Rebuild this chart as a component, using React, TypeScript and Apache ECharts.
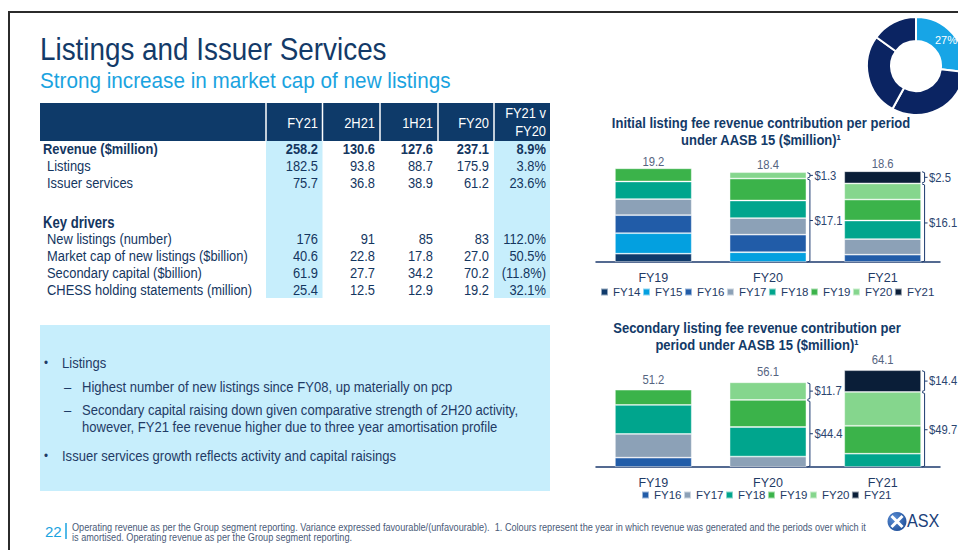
import React, { useEffect, useRef } from "react";
import * as echarts from "echarts";

const FF = "'Liberation Sans', Arial, sans-serif";
const NAVY = "#14365f";
const TEXT = "#1f3b66";

// ---- chart data ----
const periods = ["FY19", "FY20", "FY21"];
const initialYears = ["FY14", "FY15", "FY16", "FY17", "FY18", "FY19", "FY20", "FY21"];
const secondaryYears = ["FY16", "FY17", "FY18", "FY19", "FY20", "FY21"];

const initialFY14 = [1.7, null, null];
const initialFY15 = [4.2, 2.0, null];
const initialFY16 = [3.7, 3.6, 1.5];
const initialFY17 = [3.3, 3.4, 3.2];
const initialFY18 = [3.6, 3.6, 3.8];
const initialFY19 = [2.7, 4.5, 4.3];
const initialFY20 = [null, 1.3, 3.3];
const initialFY21 = [null, null, 2.5];

const secondaryFY16 = [6.2, null, null];
const secondaryFY17 = [15.7, 6.9, null];
const secondaryFY18 = [19.2, 19.6, 8.8];
const secondaryFY19 = [10.1, 17.9, 18.5];
const secondaryFY20 = [null, 11.7, 22.4];
const secondaryFY21 = [null, null, 14.4];

const bracketShown = [false, true, true];

const donutValues = [27, 31, 27, 15];
const donutLabel = "27%";

// ---- table data ----
const tableHeaders = ["FY21", "2H21", "1H21", "FY20"];
const tableHeaderLast = ["FY21 v", "FY20"];
const rowLabels = [
  "Revenue ($million)",
  "Listings",
  "Issuer services",
  "Key drivers",
  "New listings (number)",
  "Market cap of new listings ($billion)",
  "Secondary capital ($billion)",
  "CHESS holding statements (million)",
];
const rowRevenue = ["258.2", "130.6", "127.6", "237.1", "8.9%"];
const rowListings = ["182.5", "93.8", "88.7", "175.9", "3.8%"];
const rowIssuer = ["75.7", "36.8", "38.9", "61.2", "23.6%"];
const rowNewListings = ["176", "91", "85", "83", "112.0%"];
const rowMarketCap = ["40.6", "22.8", "17.8", "27.0", "50.5%"];
const rowSecondary = ["61.9", "27.7", "34.2", "70.2", "(11.8%)"];
const rowChess = ["25.4", "12.5", "12.9", "19.2", "32.1%"];

const bulletLines = [
  "Listings",
  "Highest number of new listings since FY08, up materially on pcp",
  "Secondary capital raising down given comparative strength of 2H20 activity,",
  "however, FY21 fee revenue higher due to three year amortisation profile",
  "Issuer services growth reflects activity and capital raisings",
];

const footerLine1 =
  "Operating revenue as per the Group segment reporting. Variance expressed favourable/(unfavourable).  1. Colours represent the year in which revenue was generated and the periods over which it";
const footerLine2 = "is amortised. Operating revenue as per the Group segment reporting.";

// ---- styles ----
const yearColors: Record<string, string> = {
  FY14: "#0f3a6b",
  FY15: "#03a0e0",
  FY16: "#215ca8",
  FY17: "#8ca1b7",
  FY18: "#00a58d",
  FY19: "#3bb34a",
  FY20: "#85d68d",
  FY21: "#0a1e38",
};

const initialSeriesData: Record<string, (number | null)[]> = {
  FY14: initialFY14, FY15: initialFY15, FY16: initialFY16, FY17: initialFY17,
  FY18: initialFY18, FY19: initialFY19, FY20: initialFY20, FY21: initialFY21,
};
const secondarySeriesData: Record<string, (number | null)[]> = {
  FY16: secondaryFY16, FY17: secondaryFY17, FY18: secondaryFY18,
  FY19: secondaryFY19, FY20: secondaryFY20, FY21: secondaryFY21,
};

function totalsOf(d: Record<string, (number | null)[]>) {
  return periods.map((_, i) =>
    Math.round(Object.values(d).reduce((s, a) => s + (a[i] || 0), 0) * 10) / 10
  );
}
function currentsOf(d: Record<string, (number | null)[]>) {
  return periods.map((p, i) => (d[p] ? d[p][i] || 0 : 0));
}

function txt(x: number, y: number, text: string, o: any = {}) {
  return {
    type: "text",
    x,
    y,
    scaleX: o.sx || 0.89,
    silent: true,
    style: {
      text,
      fill: o.fill || TEXT,
      fontSize: o.size || 14.5,
      fontWeight: o.weight || "normal",
      fontFamily: o.family || FF,
      align: o.align || "left",
      verticalAlign: "middle",
    },
  };
}

function bracketSeries(idx: number, d: Record<string, (number | null)[]>, labelOffset: number) {
  const totals = totalsOf(d);
  const currents = currentsOf(d);
  return {
    type: "custom",
    xAxisIndex: idx,
    yAxisIndex: idx,
    z: 10,
    clip: false,
    silent: true,
    data: periods.map((_, i) => [i, totals[i], currents[i], bracketShown[i] ? 1 : 0]),
    renderItem: (params: any, api: any) => {
      const i = api.value(0);
      const total = api.value(1);
      const cur = api.value(2);
      const show = api.value(3);
      const top = api.coord([i, total]);
      const base = api.coord([i, 0]);
      const mid = api.coord([i, total - cur]);
      const band = api.size([1, 0])[0];
      const children: any[] = [
        {
          type: "text",
          x: top[0],
          y: top[1] - labelOffset,
          scaleX: 0.9,
          style: {
            text: total.toFixed(1),
            fill: "#55647f",
            fontSize: 12.5,
            fontFamily: FF,
            align: "center",
            verticalAlign: "middle",
          },
        },
      ];
      if (show) {
        const bx = top[0] + band * 0.335 + 3.5;
        const seg = (y1: number, y2: number, label: string) => {
          const ym = (y1 + y2) / 2;
          children.push({
            type: "polyline",
            shape: { points: [[bx - 2.5, y1], [bx, y1 + 1], [bx, y2 - 1], [bx - 2.5, y2]] },
            style: { stroke: "#1c3a6e", lineWidth: 1, fill: null },
          });
          children.push({
            type: "line",
            shape: { x1: bx, y1: ym, x2: bx + 3, y2: ym },
            style: { stroke: "#1c3a6e", lineWidth: 1 },
          });
          children.push({
            type: "text",
            x: bx + 4.5,
            y: ym,
            scaleX: 0.9,
            style: {
              text: label,
              fill: "#2b4570",
              fontSize: 12.5,
              fontFamily: FF,
              align: "left",
              verticalAlign: "middle",
            },
          });
        };
        seg(top[1] + 0.5, mid[1] - 0.5, "$" + cur.toFixed(1));
        seg(mid[1] + 0.5, base[1], "$" + (total - cur).toFixed(1));
      }
      return { type: "group", children };
    },
  };
}

function barSeries(idx: number, years: string[], d: Record<string, (number | null)[]>) {
  return years.map((y) => ({
    type: "bar",
    name: y,
    stack: "s" + idx,
    xAxisIndex: idx,
    yAxisIndex: idx,
    barWidth: "67%",
    silent: true,
    data: d[y],
    itemStyle: { color: yearColors[y], borderColor: "rgba(255,255,255,0.55)", borderWidth: 0.8 },
  }));
}

export default function App() {
  const ref = useRef<HTMLDivElement>(null);

  useEffect(() => {
    if (!ref.current) return;
    const chart = echarts.init(ref.current, undefined, { renderer: "svg" });

    const g: any[] = [];
    // frame
    g.push({ type: "line", silent: true, shape: { x1: 8, y1: 12, x2: 958, y2: 12 }, style: { stroke: "#2b2b2b", lineWidth: 2 } });
    g.push({ type: "line", silent: true, shape: { x1: 9, y1: 12, x2: 9, y2: 550 }, style: { stroke: "#2b2b2b", lineWidth: 2 } });

    // titles
    g.push(txt(40, 48.5, "Listings and Issuer Services", { size: 32, fill: "#133a68", sx: 0.87 }));
    g.push(txt(40, 80, "Strong increase in market cap of new listings", { size: 22.5, fill: "#1aa3e0", sx: 0.92 }));

    // table backgrounds
    g.push({ type: "rect", silent: true, shape: { x: 40, y: 103, width: 510, height: 38 }, style: { fill: "#0e3a69" } });
    g.push({ type: "rect", silent: true, shape: { x: 266, y: 141, width: 56.5, height: 157 }, style: { fill: "#c7eefc" } });
    g.push({ type: "rect", silent: true, shape: { x: 494, y: 141, width: 56, height: 157 }, style: { fill: "#c7eefc" } });
    [266, 322.5, 380, 438, 494].forEach((x) =>
      g.push({ type: "line", silent: true, shape: { x1: x, y1: 103, x2: x, y2: 141 }, style: { stroke: "#ffffff", lineWidth: 1.5 } })
    );
    const colRight = [318, 375, 433, 489, 546];
    tableHeaders.forEach((h, i) => g.push(txt(colRight[i], 123, h, { fill: "#ffffff", align: "right" })));
    g.push(txt(colRight[4], 113, tableHeaderLast[0], { fill: "#ffffff", align: "right" }));
    g.push(txt(colRight[4], 131, tableHeaderLast[1], { fill: "#ffffff", align: "right" }));

    const rowYs = [149, 166.5, 183, 223, 239.5, 256.5, 273, 290.5];
    const rowVals = [rowRevenue, rowListings, rowIssuer, null, rowNewListings, rowMarketCap, rowSecondary, rowChess];
    rowLabels.forEach((l, r) => {
      const bold = r === 0 || r === 3;
      g.push(
        txt(bold ? 43 : 47, rowYs[r], l, {
          weight: bold ? "bold" : "normal",
          size: r === 3 ? 16 : 14.5,
          sx: r === 3 ? 0.82 : 0.89,
          fill: NAVY,
        })
      );
      const vals = rowVals[r];
      if (vals)
        vals.forEach((v, c) =>
          g.push(txt(colRight[c], rowYs[r], v, { align: "right", weight: r === 0 ? "bold" : "normal", fill: NAVY }))
        );
    });

    // bullets box
    g.push({ type: "rect", silent: true, shape: { x: 40, y: 325, width: 510, height: 166 }, style: { fill: "#c7eefc" } });
    g.push(txt(44, 363, "•", { size: 13 }));
    g.push(txt(62, 363, bulletLines[0], { sx: 0.9 }));
    g.push(txt(64, 387, "–", { sx: 0.9 }));
    g.push(txt(82, 387, bulletLines[1], { sx: 0.9 }));
    g.push(txt(64, 410, "–", { sx: 0.9 }));
    g.push(txt(82, 410, bulletLines[2], { sx: 0.9 }));
    g.push(txt(82, 427, bulletLines[3], { sx: 0.9 }));
    g.push(txt(44, 456, "•", { size: 13 }));
    g.push(txt(62, 456, bulletLines[4], { sx: 0.9 }));

    // chart titles
    const ct = { size: 14, weight: "bold", fill: "#133a68", align: "center", sx: 0.93 };
    g.push(txt(761, 123, "Initial listing fee revenue contribution per period", ct));
    g.push(txt(761, 140, "under AASB 15 ($million)¹", ct));
    g.push(txt(757, 328, "Secondary listing fee revenue contribution per", ct));
    g.push(txt(757, 345, "period under AASB 15 ($million)¹", ct));

    // footer
    g.push(txt(45, 531, "22", { size: 15, fill: "#1aa3e0", sx: 1 }));
    g.push({ type: "line", silent: true, shape: { x1: 66, y1: 523, x2: 66, y2: 539 }, style: { stroke: "#1aa3e0", lineWidth: 1.5 } });
    g.push(txt(72, 527, footerLine1, { size: 10, fill: "#4a5a78", sx: 0.915 }));
    g.push(txt(72, 537, footerLine2, { size: 10, fill: "#4a5a78", sx: 0.915 }));

    // ASX logo
    g.push({
      type: "circle",
      silent: true,
      shape: { cx: 897, cy: 521.5, r: 9.5 },
      style: {
        fill: new echarts.graphic.RadialGradient(0.35, 0.35, 0.8, [
          { offset: 0, color: "#5b8fd6" },
          { offset: 1, color: "#1b4a94" },
        ]),
      },
    });
    g.push({ type: "line", silent: true, shape: { x1: 891.5, y1: 516, x2: 902.5, y2: 527 }, style: { stroke: "#ffffff", lineWidth: 3 } });
    g.push({ type: "line", silent: true, shape: { x1: 902.5, y1: 516, x2: 891.5, y2: 527 }, style: { stroke: "#ffffff", lineWidth: 3 } });
    g.push(txt(907, 521, "ASX", { size: 18, fill: "#1b3f7a", sx: 0.9 }));

    const legendBase = {
      itemWidth: 7,
      itemHeight: 7,
      icon: "rect",
      selectedMode: false,
      orient: "horizontal",
      padding: 0,
      width: 360,
      itemGap: 1.5,
      textStyle: { fontSize: 11.5, color: TEXT, fontFamily: FF },
    };

    chart.setOption({
      animation: false,
      backgroundColor: "#ffffff",
      textStyle: { fontFamily: FF },
      graphic: { elements: g },
      legend: [
        { ...legendBase, data: initialYears, left: 600, top: 286 },
        { ...legendBase, data: secondaryYears, left: 641, top: 489 },
      ],
      grid: [
        { left: 596, width: 344, top: 164.4, height: 97.6 },
        { left: 596, width: 344, top: 361.3, height: 105.7 },
      ],
      xAxis: [0, 1].map((i) => ({
        gridIndex: i,
        type: "category",
        data: periods,
        axisLine: { lineStyle: { color: "#1c3a6e", width: 1.5 } },
        axisTick: { show: false },
        axisLabel: { color: TEXT, fontSize: 12.5, margin: 9, fontFamily: FF },
      })),
      yAxis: [
        { gridIndex: 0, type: "value", min: 0, max: 20, show: false },
        { gridIndex: 1, type: "value", min: 0, max: 70, show: false },
      ],
      series: [
        ...barSeries(0, initialYears, initialSeriesData),
        ...barSeries(1, secondaryYears, secondarySeriesData),
        bracketSeries(0, initialSeriesData, 7),
        bracketSeries(1, secondarySeriesData, 10),
        {
          type: "pie",
          silent: true,
          center: [916, 66],
          radius: [25, 49],
          startAngle: 90,
          clockwise: true,
          labelLine: { show: false },
          itemStyle: { borderColor: "#ffffff", borderWidth: 2 },
          data: donutValues.map((v, i) => ({
            value: v,
            name: "share" + i,
            itemStyle: { color: i === 0 ? "#17a5e6" : "#0b2462" },
            label:
              i === 0
                ? { show: true, position: "inside", formatter: donutLabel, color: "#ffffff", fontSize: 11, fontFamily: FF }
                : { show: false },
          })),
        },
      ],
    });

    return () => chart.dispose();
  }, []);

  return (
    <div
      ref={ref}
      style={{ position: "fixed", left: 0, top: 0, width: 958, height: 550, background: "#ffffff" }}
    />
  );
}
